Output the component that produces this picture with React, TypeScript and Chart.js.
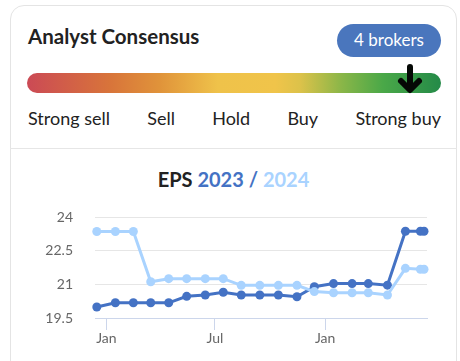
import React, { useEffect, useRef } from 'react';
import { Chart, registerables } from 'chart.js';

Chart.register(...registerables);

// ---- data ----
const dates = [
  '2022-12-16', '2023-01-16', '2023-02-15', '2023-03-16', '2023-04-15',
  '2023-05-15', '2023-06-15', '2023-07-15', '2023-08-14', '2023-09-14',
  '2023-10-15', '2023-11-15', '2023-12-14', '2024-01-15', '2024-02-15',
  '2024-03-13', '2024-04-14', '2024-05-14', '2024-06-08', '2024-06-14',
];
const eps2023 = [
  19.99, 20.18, 20.18, 20.18, 20.18, 20.47, 20.53, 20.65, 20.53, 20.53,
  20.53, 20.45, 20.9, 21.04, 21.04, 21.04, 20.97, 23.38, 23.38, 23.38,
];
const eps2024 = [
  23.37, 23.37, 23.37, 21.12, 21.26, 21.26, 21.26, 21.26, 20.96, 20.96,
  20.96, 20.96, 20.68, 20.63, 20.63, 20.63, 20.53, 21.72, 21.68, 21.68,
];
const tickDates = ['2023-01-01', '2023-07-01', '2024-01-01'];
const tickLabels = ['Jan', 'Jul', 'Jan'];
const ratingLabels = ['Strong sell', 'Sell', 'Hold', 'Buy', 'Strong buy'];
const brokerCount = 4;
const yMin = 19.5;
const yMax = 24;
const yStep = 1.5;
const xStart = '2022-12-13';
const xEnd = '2024-06-19';

const COLOR_2023 = '#4472c4';
const COLOR_2024 = '#a9d3ff';
const FONT = 'Lato, "Open Sans", sans-serif';

const origin = Date.UTC(2023, 0, 1);
const toDay = (s: string) => (Date.parse(s + 'T00:00:00Z') - origin) / 86400000;

const CANVAS_TOP = 187;
const CANVAS_H = 174;

function EpsChart() {
  const ref = useRef<HTMLCanvasElement | null>(null);
  useEffect(() => {
    if (!ref.current) return;
    const tickDays = tickDates.map(toDay);
    const chart = new Chart(ref.current, {
      type: 'line',
      data: {
        datasets: [
          {
            label: '2024',
            data: dates.map((d, i) => ({ x: toDay(d), y: eps2024[i] })),
            borderColor: COLOR_2024,
            backgroundColor: COLOR_2024,
            pointBackgroundColor: COLOR_2024,
            pointBorderColor: COLOR_2024,
            borderWidth: 3,
            pointRadius: 4.5,
            pointBorderWidth: 0,
            tension: 0,
            clip: false as any,
          },
          {
            label: '2023',
            data: dates.map((d, i) => ({ x: toDay(d), y: eps2023[i] })),
            borderColor: COLOR_2023,
            backgroundColor: COLOR_2023,
            pointBackgroundColor: COLOR_2023,
            pointBorderColor: COLOR_2023,
            borderWidth: 3,
            pointRadius: 4.5,
            pointBorderWidth: 0,
            tension: 0,
            clip: false as any,
          },
        ],
      },
      options: {
        animation: false,
        responsive: false,
        maintainAspectRatio: false,
        layout: { padding: { top: 0, right: 33, left: 0, bottom: 0 } },
        plugins: {
          legend: { display: false },
          tooltip: { enabled: false },
          title: { display: false },
        },
        scales: {
          x: {
            type: 'linear',
            min: toDay(xStart),
            max: toDay(xEnd),
            afterBuildTicks: (s: any) => {
              s.ticks = tickDays.map((v) => ({ value: v }));
            },
            afterFit: (s: any) => {
              s.height = 43;
            },
            ticks: {
              autoSkip: false,
              maxRotation: 0,
              padding: 0,
              color: '#666666',
              font: { family: FONT, size: 14 },
              callback: (_v: any, i: number) => tickLabels[i],
            },
            grid: {
              drawOnChartArea: false,
              drawTicks: true,
              tickLength: 12,
              color: '#ccd6eb',
              lineWidth: 1,
            },
            border: { display: true, color: '#ccd6eb', width: 1 },
          },
          y: {
            min: yMin,
            max: yMax,
            afterFit: (s: any) => {
              s.width = 95;
            },
            ticks: {
              stepSize: yStep,
              padding: 22,
              color: '#666666',
              font: { family: FONT, size: 14 },
            },
            grid: { color: '#e6e6e6', drawTicks: false, lineWidth: 1 },
            border: { display: false },
          },
        },
      },
    } as any);
    return () => chart.destroy();
  }, []);
  return (
    <div
      style={{
        position: 'absolute',
        left: 0,
        top: CANVAS_TOP,
        width: 460,
        height: CANVAS_H,
      }}
    >
      <canvas
        ref={ref}
        width={460}
        height={CANVAS_H}
        style={{ display: 'block', width: 460, height: CANVAS_H }}
      />
    </div>
  );
}

export default function App() {
  return (
    <div
      style={{
        position: 'fixed',
        left: 0,
        top: 0,
        width: 460,
        height: 361,
        overflow: 'hidden',
        background: '#ffffff',
        fontFamily: FONT,
        color: '#222222',
      }}
    >
      <div
        style={{
          position: 'absolute',
          left: 10,
          top: 5,
          width: 447,
          height: 420,
          border: '1px solid #e4e4e4',
          borderRadius: 14,
          boxSizing: 'border-box',
        }}
      />
      <div
        style={{
          position: 'absolute',
          left: 10,
          top: 148,
          width: 447,
          height: 1,
          background: '#e6e6e6',
        }}
      />
      <div
        style={{
          position: 'absolute',
          left: 28,
          top: 25.5,
          fontSize: 20.5,
          lineHeight: '20px',
          fontWeight: 700,
          whiteSpace: 'nowrap',
        }}
      >
        Analyst Consensus
      </div>
      <div
        style={{
          position: 'absolute',
          left: 337,
          top: 24,
          width: 104,
          height: 33,
          borderRadius: 17,
          background: '#4a76bd',
          color: '#ffffff',
          fontSize: 17,
          lineHeight: '31px',
          textAlign: 'center',
          whiteSpace: 'nowrap',
        }}
      >
        {brokerCount} brokers
      </div>
      <div
        style={{
          position: 'absolute',
          left: 27,
          top: 73,
          width: 414,
          height: 20,
          borderRadius: 10,
          background:
            'linear-gradient(to right, #cb4a55 0%, #d8743a 20%, #e0933a 32%, #efc24a 46%, #f0c44a 60%, #dcc24a 66%, #8ab648 76%, #4aa848 86%, #248a48 100%)',
        }}
      />
      <svg
        width={30}
        height={36}
        viewBox="0 0 30 36"
        style={{ position: 'absolute', left: 395, top: 60 }}
      >
        <path
          d="M15 7 L15 29 M6 21 L15 30 L24 21"
          stroke="#050805"
          strokeWidth={6}
          strokeLinecap="round"
          strokeLinejoin="round"
          fill="none"
        />
      </svg>
      <div
        style={{
          position: 'absolute',
          left: 28,
          top: 109,
          width: 413,
          display: 'flex',
          justifyContent: 'space-between',
          fontSize: 18,
          lineHeight: '18px',
          whiteSpace: 'nowrap',
        }}
      >
        {ratingLabels.map((l) => (
          <span key={l}>{l}</span>
        ))}
      </div>
      <div
        style={{
          position: 'absolute',
          left: 10,
          top: 169,
          width: 447,
          textAlign: 'center',
          fontSize: 20,
          lineHeight: '20px',
          fontWeight: 700,
          whiteSpace: 'pre',
        }}
      >
        <span style={{ color: '#222222' }}>EPS </span>
        <span style={{ color: COLOR_2023 }}>2023 / </span>
        <span style={{ color: COLOR_2024 }}>2024</span>
      </div>
      <EpsChart />
    </div>
  );
}
